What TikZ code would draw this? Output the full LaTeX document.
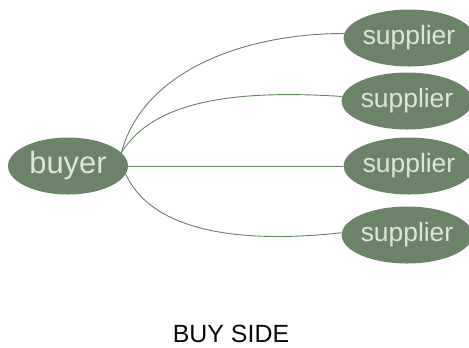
\documentclass[tikz,border=0pt]{standalone}
\usepackage{fontspec}
\setmainfont{Liberation Sans}
\usetikzlibrary{shapes.geometric}
\definecolor{nodefill}{RGB}{107,132,104}
\definecolor{nodetext}{RGB}{221,230,216}
\definecolor{edgecol}{RGB}{100,132,96}
\definecolor{captxt}{RGB}{10,10,10}
\begin{document}
\begin{tikzpicture}[x=1bp,y=-1bp,
  party/.style={ellipse,fill=nodefill,text=nodetext,inner sep=0pt,minimum width=120bp,minimum height=57bp},
  link/.style={draw=edgecol,line width=0.9bp}]
\useasboundingbox (0,0) rectangle (469,347);
\node[party,font=\fontsize{31}{31}\selectfont] (buyer) at (68,166) {buyer};
\node[party,font=\fontsize{26.5}{26.5}\selectfont] (s1) at (409,38) {supplier};
\node[party,font=\fontsize{26.5}{26.5}\selectfont] (s2) at (407,101) {supplier};
\node[party,font=\fontsize{26.5}{26.5}\selectfont] (s3) at (409,166) {supplier};
\node[party,font=\fontsize{26.5}{26.5}\selectfont] (s4) at (407,235) {supplier};
\draw[link] (buyer.14) .. controls +(22,-82) and +(-100,0) .. (s1.176);
\draw[link] (buyer.14) .. controls +(32,-52) and +(-108,-7) .. (s2.176);
\draw[link] (buyer.east) -- (s3.west);
\draw[link] (buyer.-8) .. controls +(25,55) and +(-108,12) .. (s4.178);
\node[text=captxt,font=\fontsize{25}{25}\selectfont,inner sep=0pt] (cap) at (231,334) {BUY SIDE};
\end{tikzpicture}
\end{document}
